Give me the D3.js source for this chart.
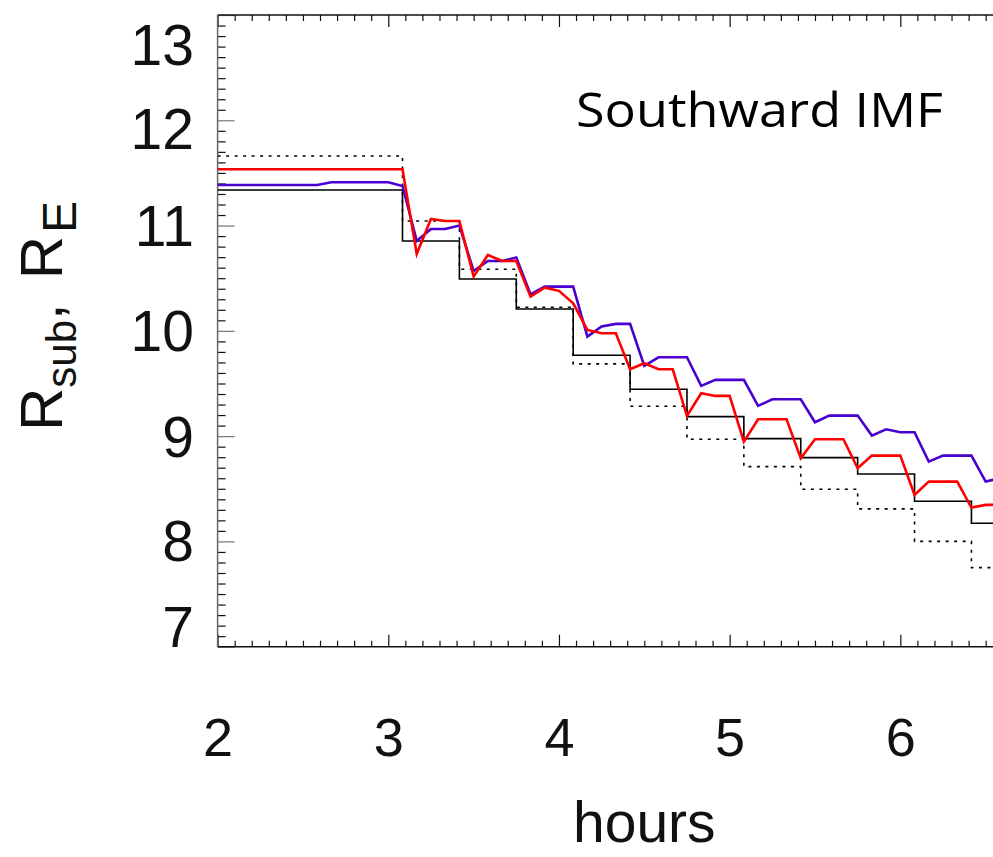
<!DOCTYPE html>
<html>
<head>
<title>Southward IMF</title>
<style>
body { margin: 0; background: white; }
svg { display: block; }
.tick-label { font-family: "Liberation Sans", Arial, sans-serif; fill: #111; }
</style>
</head>
<body>
<script src="https://d3js.org/d3.v7.min.js"></script>
<svg id="chart" width="993" height="857"></svg>
<script>
// 5-minute samples from 2:00 onwards
const sampleHours = d3.range(56).map(k => 2 + k / 12);

const redValues = [
    11.535, 11.535, 11.535, 11.535, 11.535, 11.535, 11.535, 11.535, 11.535, 11.535, 11.535, 11.535, 11.535, 11.535,
    10.73, 11.063, 11.044, 11.044, 10.515, 10.721, 10.664, 10.664, 10.325, 10.41, 10.38, 10.262,
    10.009, 9.977, 9.977, 9.635, 9.692, 9.635, 9.635, 9.192, 9.407, 9.382, 9.382, 8.948,
    9.16, 9.16, 9.16, 8.79, 8.97, 8.97, 8.97, 8.695, 8.815, 8.815, 8.815, 8.442,
    8.568, 8.568, 8.568, 8.321, 8.347, 8.347
];

const blueValues = [
    11.386, 11.386, 11.386, 11.386, 11.386, 11.386, 11.386, 11.386,
    11.411, 11.411, 11.411, 11.411, 11.411, 11.376,
    10.854, 10.968, 10.968, 11.0, 10.569, 10.664, 10.664, 10.696, 10.347, 10.42, 10.42, 10.42,
    9.946, 10.041, 10.066, 10.066, 9.667, 9.749, 9.749, 9.749, 9.477, 9.534, 9.534, 9.534,
    9.287, 9.35, 9.35, 9.35, 9.132, 9.195, 9.195, 9.195, 9.005, 9.065, 9.037, 9.037,
    8.758, 8.815, 8.815, 8.815, 8.568, 8.6
];

// 20-minute steps
const stepHours = [2, 3.0833, 3.4167, 3.75, 4.0833, 4.4167, 4.75, 5.0833, 5.4167, 5.75, 6.0833, 6.4167, 6.75];
const solidLevels = [11.338, 10.854, 10.493, 10.208, 9.768, 9.445, 9.185, 8.976, 8.796, 8.641, 8.382, 8.173];
const dottedLevels = [11.661, 11.044, 10.585, 10.224, 9.686, 9.284, 8.970, 8.710, 8.496, 8.309, 8.0, 7.751];

const xTicks = [2, 3, 4, 5, 6, 7];
const xLabels = [2, 3, 4, 5, 6];
const yTicks = [7, 8, 9, 10, 11, 12, 13];

const plotLeft = 217.6, plotRight = 1071, plotTop = 15, plotBottom = 646.7;

const svg = d3.select('#chart');
svg.append('rect').attr('width', 993).attr('height', 857).attr('fill', 'white');

const x = d3.scaleLinear().domain([2, 7]).range([plotLeft, plotRight]);
const y = d3.scaleLinear().domain([7, 13]).range([plotBottom, plotTop]);

svg.append('clipPath').attr('id', 'clip')
    .append('rect')
    .attr('x', plotLeft).attr('y', plotTop)
    .attr('width', plotRight - plotLeft).attr('height', plotBottom - plotTop);

const xMinor = d3.range(20, 71).map(d => d / 10).filter(d => !xTicks.includes(d));
const yMinor = d3.range(70, 131).map(d => d / 10).filter(d => !yTicks.includes(d));

function cleanAxis(g){
    g.select('.domain').remove();
    g.selectAll('.tick line').attr('stroke', '#111').attr('stroke-width', 1.2);
}

// bottom axis, ticks pointing inward
svg.append('g').attr('transform', `translate(0,${plotBottom})`)
    .call(d3.axisBottom(x).tickValues(xMinor).tickSize(-6).tickFormat(''))
    .call(cleanAxis);
svg.append('g').attr('transform', `translate(0,${plotBottom})`)
    .call(d3.axisBottom(x).tickValues(xTicks).tickSize(-12).tickFormat(''))
    .call(cleanAxis);

// top axis
svg.append('g').attr('transform', `translate(0,${plotTop})`)
    .call(d3.axisTop(x).tickValues(xMinor).tickSize(-6).tickFormat(''))
    .call(cleanAxis);
svg.append('g').attr('transform', `translate(0,${plotTop})`)
    .call(d3.axisTop(x).tickValues(xTicks).tickSize(-12).tickFormat(''))
    .call(cleanAxis);

// left axis
svg.append('g').attr('transform', `translate(${plotLeft},0)`)
    .call(d3.axisLeft(y).tickValues(yMinor).tickSize(-8).tickFormat(''))
    .call(cleanAxis);
svg.append('g').attr('transform', `translate(${plotLeft},0)`)
    .call(d3.axisLeft(y).tickValues(yTicks).tickSize(-17).tickFormat(''))
    .call(cleanAxis)
    .selectAll('.tick line').attr('stroke', '#777');

// frame lines
svg.append('line').attr('x1', plotLeft).attr('x2', plotRight).attr('y1', plotBottom).attr('y2', plotBottom)
    .attr('stroke', '#111').attr('stroke-width', 1.5);
svg.append('line').attr('x1', plotLeft).attr('x2', plotRight).attr('y1', plotTop).attr('y2', plotTop)
    .attr('stroke', '#111').attr('stroke-width', 1.5);
svg.append('line').attr('x1', plotLeft).attr('x2', plotLeft).attr('y1', plotTop).attr('y2', plotBottom)
    .attr('stroke', '#666').attr('stroke-width', 1.5);

// x tick labels
svg.append('g').attr('transform', `translate(0,${plotBottom})`)
    .call(d3.axisBottom(x).tickValues(xLabels).tickSize(0).tickPadding(71).tickFormat(d3.format('d')))
    .call(g => g.select('.domain').remove())
    .selectAll('text')
    .attr('class', 'tick-label')
    .attr('font-size', 54)
    .attr('fill', '#111');

// y tick labels: IDL style, ends pulled inside the frame
const yPos = yTicks.map(v => y(v)).reverse(); // top to bottom
yPos[0] = Math.max(yPos[0], 44);
yPos[yPos.length - 1] = Math.min(yPos[yPos.length - 1], 626);
for (let i = 1; i < yPos.length - 1; i++){
    yPos[i] = Math.max(yPos[i], yPos[i - 1] + 84);
}
for (let i = yPos.length - 2; i > 0; i--){
    yPos[i] = Math.min(yPos[i], yPos[i + 1] - 86);
}
svg.append('g').selectAll('text')
    .data(yTicks.slice().reverse())
    .join('text')
    .attr('class', 'tick-label')
    .attr('x', 194)
    .attr('y', (d, i) => yPos[i])
    .attr('dy', '0.36em')
    .attr('text-anchor', 'end')
    .attr('font-size', 57)
    .text(d => d);

// axis titles
svg.append('text')
    .attr('x', (plotLeft + plotRight) / 2)
    .attr('y', 842)
    .attr('text-anchor', 'middle')
    .attr('font-family', '"Liberation Sans", Arial, sans-serif')
    .attr('font-size', 57)
    .attr('fill', '#111')
    .text('hours');

const yTitle = svg.append('text')
    .attr('transform', 'translate(62,431) rotate(-90)')
    .attr('text-anchor', 'start')
    .attr('font-family', '"Liberation Sans", Arial, sans-serif')
    .attr('font-size', 60)
    .attr('fill', '#111');
yTitle.append('tspan').text('R');
yTitle.append('tspan').attr('font-size', 42).attr('baseline-shift', '-14').text('sub');
yTitle.append('tspan').text(',');
yTitle.append('tspan').attr('dx', 24).text('R');
yTitle.append('tspan').attr('dx', 3).attr('font-size', 48).attr('baseline-shift', '-14').text('E');

svg.append('text')
    .attr('x', 576)
    .attr('y', 127)
    .attr('font-family', '"Open Sans", "Noto Sans", sans-serif')
    .attr('font-size', 48)
    .attr('textLength', 367)
    .attr('lengthAdjust', 'spacingAndGlyphs')
    .attr('fill', '#000')
    .text('Southward IMF');

// series
const plot = svg.append('g').attr('clip-path', 'url(#clip)');

const stepLine = d3.line()
    .x(d => x(d.t))
    .y(d => y(d.v))
    .curve(d3.curveStepAfter);

const stepData = levels => stepHours.map((t, i) => ({t, v: levels[Math.min(i, levels.length - 1)]}));

plot.append('path')
    .datum(stepData(dottedLevels))
    .attr('d', stepLine)
    .attr('fill', 'none')
    .attr('stroke', '#000')
    .attr('stroke-width', 1.6)
    .attr('stroke-dasharray', '3,5.5');

plot.append('path')
    .datum(stepData(solidLevels))
    .attr('d', stepLine)
    .attr('fill', 'none')
    .attr('stroke', '#000')
    .attr('stroke-width', 1.6);

const sampleLine = d3.line()
    .x((d, i) => x(sampleHours[i]))
    .y(d => y(d));

plot.append('path')
    .datum(blueValues)
    .attr('d', sampleLine)
    .attr('fill', 'none')
    .attr('stroke', '#4a00d0')
    .attr('stroke-width', 2.6);

plot.append('path')
    .datum(redValues)
    .attr('d', sampleLine)
    .attr('fill', 'none')
    .attr('stroke', '#ff0000')
    .attr('stroke-width', 2.6);
</script>
</body>
</html>
